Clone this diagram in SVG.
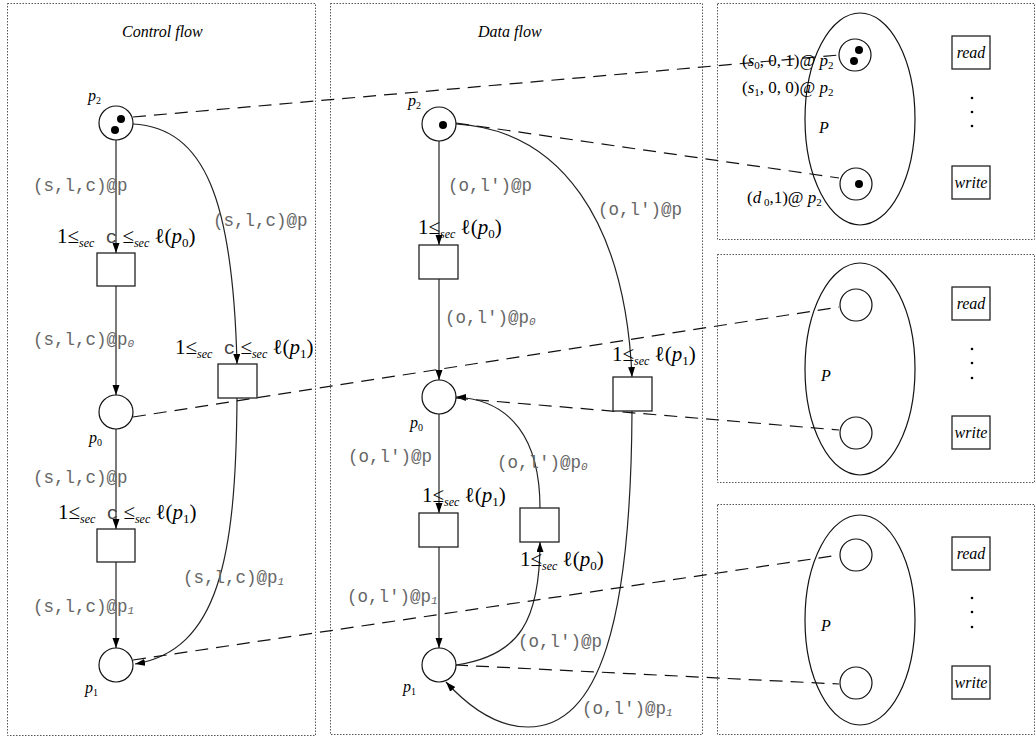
<svg xmlns="http://www.w3.org/2000/svg" width="1036" height="738" viewBox="0 0 1036 738">
<style>
.panel{fill:none;stroke:#555;stroke-width:1;stroke-dasharray:1.5 1.5}
.place{fill:#fff;stroke:#111;stroke-width:1.2}
.trans{fill:#fff;stroke:#222;stroke-width:1.3}
.tok{fill:#000}
.arc{fill:none;stroke:#222;stroke-width:1.2}
.dash{fill:none;stroke:#111;stroke-width:1.2;stroke-dasharray:13 8}
.ell{fill:none;stroke:#111;stroke-width:1.2}
.mono{font-family:"Liberation Mono",monospace;font-size:17.5px;fill:#666}
.it{font-style:italic}
.cm{font-family:"Liberation Mono",monospace;font-size:19px;fill:#444}
.cons{font-family:"Liberation Serif",serif;font-size:21px;fill:#000}
.title{font-family:"Liberation Serif",serif;font-style:italic;font-size:16px;fill:#000}
.plab{font-family:"Liberation Serif",serif;font-style:italic;font-size:16px;fill:#000}
.tok-lab{font-family:"Liberation Serif",serif;font-size:17px;fill:#000}
.box{font-family:"Liberation Serif",serif;font-style:italic;font-size:16px;fill:#000}
</style>
<defs>
<marker id="ah" markerWidth="11" markerHeight="8" refX="10" refY="3.5" orient="auto" markerUnits="userSpaceOnUse">
<path d="M0,0 L10,3.5 L0,7 z" fill="#000"/>
</marker>
</defs>

<g id="panels">
<rect class="panel" x="7.5" y="3.5" width="308" height="732"/>
<rect class="panel" x="330.5" y="3.5" width="372" height="731"/>
<rect class="panel" x="717.5" y="3.5" width="317" height="236"/>
<rect class="panel" x="717.5" y="254.5" width="317" height="228"/>
<rect class="panel" x="717.5" y="504.5" width="317" height="230"/>
<text class="title" x="122" y="37">Control flow</text>
<text class="title" x="478" y="37">Data flow</text>
</g>

<g id="connectors">
<line class="arc" x1="116" y1="140" x2="116" y2="253" marker-end="url(#ah)"/>
<line class="arc" x1="116" y1="286" x2="116" y2="395" marker-end="url(#ah)"/>
<line class="arc" x1="116" y1="429" x2="116" y2="529" marker-end="url(#ah)"/>
<line class="arc" x1="116" y1="562" x2="116" y2="648" marker-end="url(#ah)"/>
<path class="arc" d="M133,124 C205,128 233,200 237,364" marker-end="url(#ah)"/>
<path class="arc" d="M237,398 C236,560 218,650 135,664" marker-end="url(#ah)"/>
<line class="arc" x1="439" y1="141" x2="439" y2="245" marker-end="url(#ah)"/>
<line class="arc" x1="439" y1="279" x2="439" y2="380" marker-end="url(#ah)"/>
<line class="arc" x1="439" y1="414" x2="439" y2="513" marker-end="url(#ah)"/>
<line class="arc" x1="439" y1="547" x2="439" y2="648" marker-end="url(#ah)"/>
<path class="arc" d="M456,124 C560,130 625,220 632,377" marker-end="url(#ah)"/>
<path class="arc" d="M632,411 C631,620 600,727 528,727 C495,727 468,706 446,682" marker-end="url(#ah)"/>
<path class="arc" d="M456,665 C520,656 540,620 540,542" marker-end="url(#ah)"/>
<path class="arc" d="M540,508 C540,440 512,400 456,397" marker-end="url(#ah)"/>
<line class="dash" x1="133" y1="117" x2="839" y2="55"/>
<line class="dash" x1="456" y1="123" x2="839" y2="178"/>
<line class="dash" x1="133" y1="417" x2="839" y2="307"/>
<line class="dash" x1="455" y1="398" x2="839" y2="430"/>
<line class="dash" x1="133" y1="660" x2="839" y2="555"/>
<line class="dash" x1="455" y1="665" x2="839" y2="684"/>
</g>

<g id="cf-p2">
<circle class="place" cx="116" cy="123" r="17"/>
<circle class="tok" cx="121" cy="119" r="4"/>
<circle class="tok" cx="115" cy="130" r="4"/>
<text class="plab" x="88" y="101">p<tspan font-size="10" dy="3" font-style="normal">2</tspan></text>
</g>
<g id="cf-t1">
<rect class="trans" x="97" y="253" width="38" height="33"/>
<text class="cons" x="57" y="243">1≤<tspan class="it" font-size="12" dy="4">sec</tspan><tspan dy="-4" class="cm"> c</tspan><tspan> ≤</tspan><tspan class="it" font-size="12" dy="4">sec</tspan><tspan dy="-4"> ℓ(</tspan><tspan class="it">p</tspan><tspan font-size="13" dy="4">0</tspan><tspan dy="-4">)</tspan></text>
</g>
<g id="cf-p0">
<circle class="place" cx="116" cy="412" r="17"/>
<text class="plab" x="89" y="443">p<tspan font-size="10" dy="3" font-style="normal">0</tspan></text>
</g>
<g id="cf-t2">
<rect class="trans" x="97" y="529" width="38" height="33"/>
<text class="cons" x="58" y="519">1≤<tspan class="it" font-size="12" dy="4">sec</tspan><tspan dy="-4" class="cm"> c</tspan><tspan> ≤</tspan><tspan class="it" font-size="12" dy="4">sec</tspan><tspan dy="-4"> ℓ(</tspan><tspan class="it">p</tspan><tspan font-size="13" dy="4">1</tspan><tspan dy="-4">)</tspan></text>
</g>
<g id="cf-p1">
<circle class="place" cx="116" cy="665" r="17"/>
<text class="plab" x="85" y="693">p<tspan font-size="10" dy="3" font-style="normal">1</tspan></text>
</g>
<g id="cf-t3">
<rect class="trans" x="218" y="364" width="39" height="34"/>
<text class="cons" x="175" y="354">1≤<tspan class="it" font-size="12" dy="4">sec</tspan><tspan dy="-4" class="cm"> c</tspan><tspan> ≤</tspan><tspan class="it" font-size="12" dy="4">sec</tspan><tspan dy="-4"> ℓ(</tspan><tspan class="it">p</tspan><tspan font-size="13" dy="4">1</tspan><tspan dy="-4">)</tspan></text>
</g>
<g id="cf-labels">
<text class="mono" x="33" y="191">(s,l,c)@p</text>
<text class="mono" x="33" y="345">(s,l,c)@p<tspan font-size="11" font-style="italic" dy="2">0</tspan></text>
<text class="mono" x="33" y="483">(s,l,c)@p</text>
<text class="mono" x="33" y="612">(s,l,c)@p<tspan font-size="11" font-style="italic" dy="2">1</tspan></text>
<text class="mono" x="213" y="226">(s,l,c)@p</text>
<text class="mono" x="183" y="583">(s,l,c)@p<tspan font-size="11" font-style="italic" dy="2">1</tspan></text>
</g>

<g id="df-p2">
<circle class="place" cx="439" cy="124" r="17"/>
<circle class="tok" cx="443" cy="125" r="4"/>
<text class="plab" x="408" y="106">p<tspan font-size="10" dy="3" font-style="normal">2</tspan></text>
</g>
<g id="df-t1">
<rect class="trans" x="419" y="245" width="39" height="34"/>
<text class="cons" x="418" y="234">1≤<tspan class="it" font-size="12" dy="4">sec</tspan><tspan dy="-4"> ℓ(</tspan><tspan class="it">p</tspan><tspan font-size="13" dy="4">0</tspan><tspan dy="-4">)</tspan></text>
</g>
<g id="df-p0">
<circle class="place" cx="439" cy="397" r="17"/>
<text class="plab" x="410" y="428">p<tspan font-size="10" dy="3" font-style="normal">0</tspan></text>
</g>
<g id="df-t2">
<rect class="trans" x="419" y="513" width="39" height="34"/>
<text class="cons" x="422" y="502">1≤<tspan class="it" font-size="12" dy="4">sec</tspan><tspan dy="-4"> ℓ(</tspan><tspan class="it">p</tspan><tspan font-size="13" dy="4">1</tspan><tspan dy="-4">)</tspan></text>
</g>
<g id="df-p1">
<circle class="place" cx="439" cy="665" r="17"/>
<text class="plab" x="403" y="692">p<tspan font-size="10" dy="3" font-style="normal">1</tspan></text>
</g>
<g id="df-t3">
<rect class="trans" x="613" y="377" width="39" height="34"/>
<text class="cons" x="612" y="361">1≤<tspan class="it" font-size="12" dy="4">sec</tspan><tspan dy="-4"> ℓ(</tspan><tspan class="it">p</tspan><tspan font-size="13" dy="4">1</tspan><tspan dy="-4">)</tspan></text>
</g>
<g id="df-t4">
<rect class="trans" x="520" y="508" width="39" height="34"/>
<text class="cons" x="520" y="566">1≤<tspan class="it" font-size="12" dy="4">sec</tspan><tspan dy="-4"> ℓ(</tspan><tspan class="it">p</tspan><tspan font-size="13" dy="4">0</tspan><tspan dy="-4">)</tspan></text>
</g>
<g id="df-labels">
<text class="mono" x="448" y="191">(o,l')@p</text>
<text class="mono" x="445" y="323">(o,l')@p<tspan font-size="11" font-style="italic" dy="2">0</tspan></text>
<text class="mono" x="348" y="462">(o,l')@p</text>
<text class="mono" x="347" y="602">(o,l')@p<tspan font-size="11" font-style="italic" dy="2">1</tspan></text>
<text class="mono" x="598" y="215">(o,l')@p</text>
<text class="mono" x="497" y="468">(o,l')@p<tspan font-size="11" font-style="italic" dy="2">0</tspan></text>
<text class="mono" x="518" y="647">(o,l')@p</text>
<text class="mono" x="582" y="714">(o,l')@p<tspan font-size="11" font-style="italic" dy="2">1</tspan></text>
</g>

<g id="r1-process">
<ellipse class="ell" cx="860" cy="119" rx="55" ry="106"/>
<text class="plab" x="819" y="133">P</text>
</g>
<g id="r1-place-top">
<circle class="place" cx="855" cy="55" r="16"/>
<circle class="tok" cx="859" cy="50" r="4"/>
<circle class="tok" cx="854" cy="61" r="4"/>
</g>
<g id="r1-place-bot">
<circle class="place" cx="856" cy="184" r="16"/>
<circle class="tok" cx="859" cy="184" r="4"/>
</g>
<g id="r1-read">
<rect class="trans" x="952" y="36" width="38" height="33"/>
<text class="box" x="971" y="58" text-anchor="middle">read</text>
</g>
<g id="r1-write">
<rect class="trans" x="952" y="166" width="38" height="33"/>
<text class="box" x="971" y="188" text-anchor="middle">write</text>
</g>
<g id="r1-dots">
<circle class="tok" cx="972" cy="98" r="1.3"/><circle class="tok" cx="972" cy="112" r="1.3"/><circle class="tok" cx="972" cy="126" r="1.3"/>
</g>
<g id="r1-labels">
<text class="tok-lab" x="742" y="66">(<tspan class="it">s</tspan><tspan font-size="11" dy="3">0</tspan><tspan dy="-3">, 0, 1)@ </tspan><tspan class="it">p</tspan><tspan font-size="11" dy="3">2</tspan></text>
<text class="tok-lab" x="742" y="93">(<tspan class="it">s</tspan><tspan font-size="11" dy="3">1</tspan><tspan dy="-3">, 0, 0)@ </tspan><tspan class="it">p</tspan><tspan font-size="11" dy="3">2</tspan></text>
<text class="tok-lab" x="747" y="203">(<tspan class="it">d</tspan><tspan font-size="11" dy="3"> 0</tspan><tspan dy="-3">,1)@ </tspan><tspan class="it">p</tspan><tspan font-size="11" dy="3">2</tspan></text>
</g>

<g id="r2-process">
<ellipse class="ell" cx="860" cy="369" rx="55" ry="106"/>
<text class="plab" x="821" y="381">P</text>
</g>
<g id="r2-place-top"><circle class="place" cx="856" cy="305" r="16"/></g>
<g id="r2-place-bot"><circle class="place" cx="856" cy="433" r="16"/></g>
<g id="r2-read">
<rect class="trans" x="952" y="287" width="38" height="33"/>
<text class="box" x="971" y="309" text-anchor="middle">read</text>
</g>
<g id="r2-write">
<rect class="trans" x="952" y="416" width="38" height="33"/>
<text class="box" x="971" y="438" text-anchor="middle">write</text>
</g>
<g id="r2-dots">
<circle class="tok" cx="972" cy="349" r="1.3"/><circle class="tok" cx="972" cy="363" r="1.3"/><circle class="tok" cx="972" cy="378" r="1.3"/>
</g>

<g id="r3-process">
<ellipse class="ell" cx="860" cy="620" rx="55" ry="105"/>
<text class="plab" x="821" y="631">P</text>
</g>
<g id="r3-place-top"><circle class="place" cx="856" cy="555" r="16"/></g>
<g id="r3-place-bot"><circle class="place" cx="856" cy="683" r="16"/></g>
<g id="r3-read">
<rect class="trans" x="952" y="537" width="38" height="33"/>
<text class="box" x="971" y="559" text-anchor="middle">read</text>
</g>
<g id="r3-write">
<rect class="trans" x="952" y="666" width="38" height="33"/>
<text class="box" x="971" y="688" text-anchor="middle">write</text>
</g>
<g id="r3-dots">
<circle class="tok" cx="972" cy="598" r="1.3"/><circle class="tok" cx="972" cy="612" r="1.3"/><circle class="tok" cx="972" cy="627" r="1.3"/>
</g>
</svg>
